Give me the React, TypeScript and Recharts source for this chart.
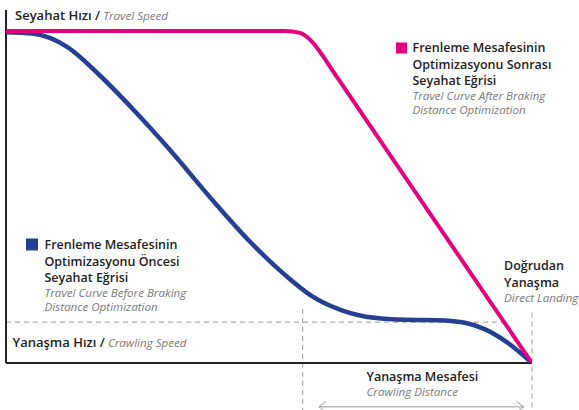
import React from 'react';
import { LineChart, Line, XAxis, YAxis, ReferenceLine } from 'recharts';

// distance along the approach (0 = start, 100 = landing point) and speed in % of travel speed
const beforeDistance = [0, 5, 11.6, 17.9, 24.1, 30.6, 40.1, 46.4, 52.7, 58, 64, 70, 76, 82, 87, 91, 95, 100];
const beforeSpeed = [99.6, 99.2, 95.2, 86.5, 76.5, 65.2, 47.5, 36.5, 27.0, 20.3, 15.8, 13.6, 13.0, 12.9, 12.2, 10.2, 6.5, 0];

const afterDistance = [0, 53.0, 55.9, 58.2, 60.1, 62.0, 81.0, 100];
const afterSpeed = [100, 100, 99.4, 96.7, 92.8, 88.3, 44.1, 0];

const crawlingSpeed = 12.3;
const crawlingStart = 56.4;
const directLanding = 100;
const yMax = 106.3;

const beforeData = beforeDistance.map((x, i) => ({ x, y: beforeSpeed[i] }));
const afterData = afterDistance.map((x, i) => ({ x, y: afterSpeed[i] }));

const BLUE = '#253f93';
const PINK = '#e5007d';
const DARK = '#222222';
const GREY = '#7a7a7a';
const FONT = '"Open Sans", "Noto Sans", sans-serif';

const ArrowShape = (props: any) => {
  const { x1, y1, x2, y2 } = props;
  const h = 5.5;
  const w = 7;
  return (
    <g stroke="#9a9a9a" strokeWidth={1} fill="none">
      <line x1={x1} y1={y1} x2={x2} y2={y2} />
      <polyline points={`${x1 + w},${y1 - h} ${x1},${y1} ${x1 + w},${y1 + h}`} />
      <polyline points={`${x2 - w},${y2 - h} ${x2},${y2} ${x2 - w},${y2 + h}`} />
    </g>
  );
};

const Title = ({ x, y, bold, italic }: { x: number; y: number; bold: string; italic: string }) => (
  <text x={x} y={y} fontFamily={FONT}>
    <tspan fontSize={13} fontWeight={600} fill={DARK}>{bold}</tspan>
    <tspan fontSize={11.6} fontStyle="italic" fill={GREY}>{' ' + italic}</tspan>
  </text>
);

const Block = ({ x, y, lines, notes }: { x: number; y: number; lines: string[]; notes: string[] }) => (
  <g fontFamily={FONT}>
    {lines.map((l, i) => (
      <text key={l} x={x} y={y + i * 16.5} fontSize={12.5} fontWeight={600} fill={DARK}>{l}</text>
    ))}
    {notes.map((n, i) => (
      <text key={n} x={x} y={y + (lines.length - 1) * 16.5 + 15 + i * 13.5} fontSize={11.6} fontStyle="italic" fill={GREY}>{n}</text>
    ))}
  </g>
);

export default function App() {
  return (
    <div style={{ position: 'absolute', left: 0, top: 0, width: 579, height: 410, background: '#fff' }}>
      <LineChart width={579} height={410} margin={{ top: 10, right: 47, left: 6, bottom: 47 }}>
        <XAxis type="number" dataKey="x" domain={[0, 100]} hide allowDataOverflow />
        <YAxis type="number" dataKey="y" domain={[0, yMax]} hide allowDataOverflow />
        <ReferenceLine segment={[{ x: 0, y: crawlingSpeed }, { x: 94.5, y: crawlingSpeed }]}
          stroke="#9a9a9a" strokeDasharray="5 4" ifOverflow="visible" />
        <ReferenceLine segment={[{ x: crawlingStart, y: 16.3 }, { x: crawlingStart, y: -14.5 }]}
          stroke="#9a9a9a" strokeDasharray="5 4" ifOverflow="visible" />
        <ReferenceLine segment={[{ x: directLanding, y: 15.2 }, { x: directLanding, y: -14.5 }]}
          stroke="#9a9a9a" strokeDasharray="5 4" ifOverflow="visible" />
        <ReferenceLine segment={[{ x: 59.5, y: -13.2 }, { x: 98.4, y: -13.2 }]}
          ifOverflow="visible" shape={ArrowShape} />
        {/* axes */}
        <ReferenceLine segment={[{ x: 0, y: 0 }, { x: 0, y: yMax }]} stroke={DARK} strokeWidth={2} ifOverflow="visible" />
        <ReferenceLine segment={[{ x: 0, y: 0 }, { x: 100, y: 0 }]} stroke={DARK} strokeWidth={2} ifOverflow="visible" />
        <Line data={beforeData} dataKey="y" type="monotone" stroke={BLUE} strokeWidth={4.5}
          dot={false} isAnimationActive={false} />
        <Line data={afterData} dataKey="y" type="monotone" stroke={PINK} strokeWidth={4}
          dot={false} isAnimationActive={false} />
      </LineChart>
      <svg width={579} height={410} style={{ position: 'absolute', left: 0, top: 0, pointerEvents: 'none' }}>
        <Title x={15} y={19.5} bold="Seyahat Hızı /" italic="Travel Speed" />
        <Title x={12.5} y={346.5} bold="Yanaşma Hızı /" italic="Crawling Speed" />
        <rect x={396} y={42.5} width={11} height={11} fill={PINK} />
        <Block x={412.5} y={52} lines={['Frenleme Mesafesinin', 'Optimizasyonu Sonrası', 'Seyahat Eğrisi']}
          notes={['Travel Curve After Braking', 'Distance Optimization']} />
        <rect x={26} y={238.5} width={12} height={12} fill={BLUE} />
        <Block x={44.5} y={249} lines={['Frenleme Mesafesinin', 'Optimizasyonu Öncesi', 'Seyahat Eğrisi']}
          notes={['Travel Curve Before Braking', 'Distance Optimization']} />
        <Block x={504} y={270} lines={['Doğrudan', 'Yanaşma']} notes={['Direct Landing']} />
        <Block x={366.5} y={381} lines={['Yanaşma Mesafesi']} notes={['Crawling Distance']} />
      </svg>
    </div>
  );
}
